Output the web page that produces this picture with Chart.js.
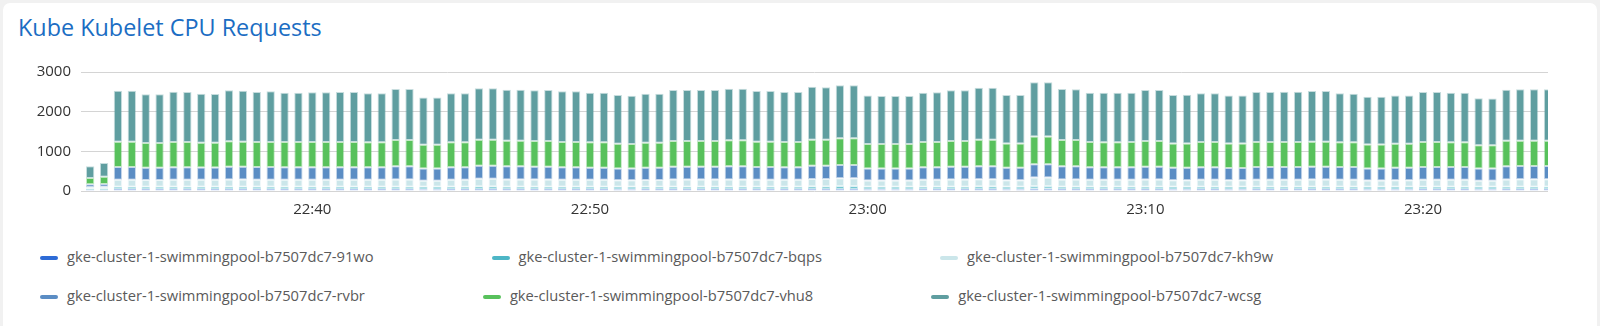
<!DOCTYPE html>
<html>
<head>
<meta charset="utf-8">
<script src="https://cdn.jsdelivr.net/npm/chart.js@4/dist/chart.umd.min.js"></script>
<style>
  html, body { margin: 0; padding: 0; }
  body { width: 1600px; height: 326px; background: #f1f1f1; overflow: hidden; font-family: 'Open Sans', sans-serif; }
  #card { position: absolute; left: 3px; top: 3px; width: 1594px; height: 330px; background: #fff; border-radius: 7px; }
  #title { position: absolute; left: 15px; top: 8px; font-size: 23.4px; color: #1b6dc3; white-space: nowrap; }
  #chartBox { position: absolute; left: 0; top: 50px; width: 1560px; height: 170px; }
  #legend { position: absolute; left: 37px; top: 243px; width: 1540px; font-size: 14.7px; color: #5a5a5a; }
  .row { height: 39px; white-space: nowrap; }
  .item { display: inline-block; margin-right: 118px; }
  .swatch { display: inline-block; width: 18px; height: 4px; border-radius: 2px; vertical-align: middle; margin-right: 9px; }
</style>
</head>
<body>
<div id="card">
  <div id="title">Kube Kubelet CPU Requests</div>
  <div id="chartBox"><canvas id="cpuChart"></canvas></div>
  <div id="legend"></div>
</div>
<script>
//30 second buckets starting at 22:32:00
const startTime = '22:32:00';
const stepSeconds = 30;

const nodeNames = [
  'gke-cluster-1-swimmingpool-b7507dc7-91wo',
  'gke-cluster-1-swimmingpool-b7507dc7-bqps',
  'gke-cluster-1-swimmingpool-b7507dc7-kh9w',
  'gke-cluster-1-swimmingpool-b7507dc7-rvbr',
  'gke-cluster-1-swimmingpool-b7507dc7-vhu8',
  'gke-cluster-1-swimmingpool-b7507dc7-wcsg',
];
const nodeColors = ['#2d6bd6', '#4db6c6', '#cbe6ea', '#5b8dc4', '#58c15c', '#5f9ea0'];

const cpu91wo = [
  25, 25, 48, 48, 48, 48, 48, 48, 48, 48,
  48, 48, 48, 48, 48, 48, 48, 48, 48, 48,
  48, 48, 48, 48, 46, 46, 48, 48, 50, 50,
  48, 48, 48, 48, 48, 48, 48, 48, 47, 47,
  48, 48, 48, 48, 48, 48, 48, 48, 48, 48,
  48, 48, 50, 50, 52, 52, 47, 47, 47, 47,
  48, 48, 48, 48, 50, 50, 47, 47, 54, 54,
  48, 48, 48, 48, 48, 48, 48, 48, 47, 47,
  48, 48, 47, 47, 48, 48, 48, 48, 48, 48,
  48, 48, 47, 47, 47, 47, 48, 48, 48, 48,
  46, 46, 48, 48, 48, 48
];
const cpuBqps = [
  30, 35, 62, 62, 62, 62, 62, 62, 62, 62,
  62, 62, 62, 62, 62, 62, 62, 62, 62, 62,
  62, 62, 62, 62, 60, 60, 62, 62, 64, 64,
  62, 62, 62, 62, 62, 62, 62, 62, 61, 61,
  62, 62, 62, 62, 62, 62, 62, 62, 62, 62,
  62, 62, 64, 64, 66, 66, 61, 61, 61, 61,
  62, 62, 62, 62, 64, 64, 61, 61, 68, 68,
  62, 62, 62, 62, 62, 62, 62, 62, 61, 61,
  62, 62, 61, 61, 62, 62, 62, 62, 62, 62,
  62, 62, 61, 61, 61, 61, 62, 62, 62, 62,
  60, 60, 62, 62, 62, 62
];
const cpuKh9w = [
  45, 50, 176, 176, 170, 170, 174, 174, 172, 172,
  178, 178, 175, 175, 174, 174, 174, 174, 174, 174,
  174, 174, 182, 182, 150, 150, 172, 172, 193, 193,
  182, 182, 178, 178, 175, 175, 172, 172, 160, 160,
  170, 170, 178, 178, 178, 178, 182, 182, 176, 176,
  174, 174, 190, 190, 201, 201, 159, 159, 159, 159,
  174, 174, 178, 178, 185, 185, 162, 162, 218, 218,
  182, 182, 174, 174, 174, 174, 178, 178, 162, 162,
  172, 172, 162, 162, 175, 175, 175, 175, 178, 178,
  175, 175, 158, 158, 162, 162, 175, 175, 175, 175,
  155, 155, 182, 185, 185, 185
];
const cpuRvbr = [
  70, 66, 319, 319, 308, 308, 313, 313, 308, 308,
  325, 322, 320, 320, 313, 313, 313, 313, 313, 313,
  313, 313, 330, 330, 311, 311, 315, 315, 327, 327,
  330, 330, 325, 325, 312, 312, 306, 306, 301, 301,
  308, 308, 325, 325, 325, 325, 330, 330, 319, 319,
  313, 313, 330, 330, 336, 336, 302, 302, 302, 302,
  313, 313, 325, 325, 327, 327, 316, 316, 336, 336,
  330, 330, 313, 313, 313, 313, 325, 325, 316, 316,
  315, 315, 308, 308, 320, 320, 320, 320, 325, 325,
  320, 320, 303, 303, 316, 316, 320, 320, 320, 320,
  306, 306, 330, 335, 335, 335
];
const cpuVhu8 = [
  155, 185, 639, 639, 622, 622, 638, 638, 628, 628,
  639, 634, 630, 630, 638, 638, 638, 638, 638, 638,
  630, 630, 664, 664, 597, 597, 630, 630, 656, 656,
  647, 647, 648, 648, 638, 638, 639, 639, 622, 614,
  630, 630, 648, 648, 648, 648, 655, 655, 639, 639,
  638, 638, 656, 656, 672, 672, 614, 614, 614, 614,
  638, 638, 648, 648, 664, 664, 614, 614, 697, 697,
  664, 664, 638, 633, 633, 638, 648, 648, 614, 614,
  638, 638, 622, 622, 630, 630, 630, 630, 631, 631,
  622, 622, 605, 605, 605, 605, 630, 630, 622, 622,
  589, 589, 647, 639, 639, 639
];
const cpuWcsg = [
  297, 345, 1285, 1285, 1227, 1227, 1269, 1261, 1236, 1227,
  1286, 1285, 1261, 1278, 1244, 1244, 1252, 1252, 1261, 1261,
  1235, 1235, 1285, 1285, 1193, 1193, 1235, 1235, 1302, 1302,
  1286, 1286, 1277, 1285, 1278, 1278, 1252, 1252, 1227, 1218,
  1236, 1236, 1285, 1285, 1285, 1285, 1303, 1303, 1277, 1277,
  1261, 1261, 1336, 1327, 1336, 1336, 1227, 1210, 1210, 1210,
  1244, 1252, 1277, 1277, 1311, 1311, 1218, 1218, 1370, 1370,
  1285, 1277, 1244, 1249, 1249, 1244, 1285, 1285, 1218, 1227,
  1227, 1227, 1210, 1210, 1261, 1261, 1269, 1269, 1277, 1277,
  1235, 1227, 1202, 1202, 1219, 1219, 1261, 1261, 1252, 1252,
  1185, 1176, 1286, 1294, 1294, 1294
];

const yTicks = [0, 1000, 2000, 3000];
const xTickLabels = ['22:40', '22:50', '23:00', '23:10', '23:20'];

const series = [cpu91wo, cpuBqps, cpuKh9w, cpuRvbr, cpuVhu8, cpuWcsg];

//minutes since midnight for each bucket
const toMinutes = (hhmmss) => {
  const [h, m, s] = hhmmss.split(':').map(Number);
  return h * 60 + m + (s || 0) / 60;
};
const startMin = toMinutes(startTime);
const times = cpu91wo.map((v, i) => startMin + i * stepSeconds / 60);
const tickMinutes = xTickLabels.map(toMinutes);

const fmtTime = (min) => {
  const h = Math.floor(min / 60);
  const m = Math.round(min - h * 60);
  return String(h).padStart(2, '0') + ':' + String(m).padStart(2, '0');
};

const withAlpha = (hex, a) => {
  const n = parseInt(hex.slice(1), 16);
  return `rgba(${n >> 16}, ${(n >> 8) & 255}, ${n & 255}, ${a})`;
};

Chart.defaults.font.family = "'Open Sans', sans-serif";
Chart.defaults.font.size = 15;
Chart.defaults.color = '#333';

new Chart(document.getElementById('cpuChart'), {
  type: 'bar',
  data: {
    datasets: series.map((values, k) => ({
      label: nodeNames[k],
      data: values.map((v, i) => ({ x: times[i], y: v })),
      backgroundColor: nodeColors[k],
      borderColor: withAlpha(nodeColors[k], 0.35),
      borderWidth: 1,
      borderSkipped: false,
      barPercentage: 0.6,
      categoryPercentage: 1,
    }))
  },
  options: {
    responsive: true,
    maintainAspectRatio: false,
    animation: false,
    devicePixelRatio: 1,
    layout: { padding: { top: 19, right: 15, left: 0, bottom: 0 } },
    plugins: {
      legend: { display: false },
      tooltip: { enabled: false }
    },
    scales: {
      x: {
        type: 'linear',
        stacked: true,
        offset: false,
        min: startMin - 0.33,
        max: times[times.length - 1],
        afterBuildTicks: (scale) => {
          scale.ticks = tickMinutes.map(v => ({ value: v }));
        },
        afterFit: (scale) => { scale.height = 32; },
        grid: { display: false, drawTicks: false },
        border: { display: false },
        ticks: {
          padding: 10,
          maxRotation: 0,
          autoSkip: false,
          callback: (v) => fmtTime(v)
        }
      },
      y: {
        stacked: true,
        min: yTicks[0],
        max: yTicks[yTicks.length - 1],
        afterBuildTicks: (scale) => {
          scale.ticks = yTicks.map(v => ({ value: v }));
        },
        afterFit: (scale) => { scale.width = 78; },
        grid: { color: '#d4d4d4', lineWidth: 1, drawTicks: false },
        border: { display: false },
        ticks: {
          padding: 10,
          callback: (v) => String(v)
        }
      }
    }
  }
});

//legend, 3 per row like the dashboard
const legend = document.getElementById('legend');
[[0, 1, 2], [3, 4, 5]].forEach((rowIdx) => {
  const row = document.createElement('div');
  row.className = 'row';
  rowIdx.forEach((k) => {
    const item = document.createElement('span');
    item.className = 'item';
    item.innerHTML = `<span class="swatch" style="background:${nodeColors[k]}"></span>${nodeNames[k]}`;
    row.appendChild(item);
  });
  legend.appendChild(row);
});
</script>
</body>
</html>
